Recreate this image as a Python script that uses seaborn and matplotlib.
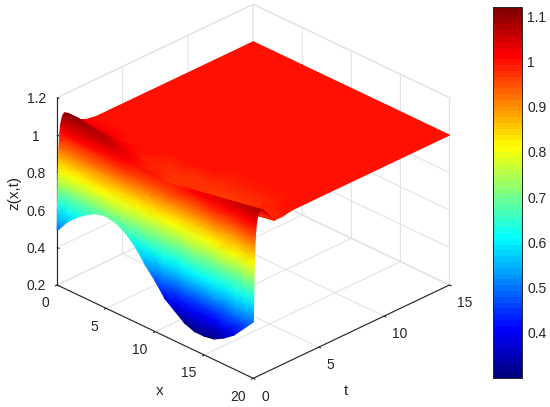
import numpy as np
import matplotlib
matplotlib.use('Agg')
import matplotlib.pyplot as plt
import seaborn as sns
from matplotlib.cm import ScalarMappable
from matplotlib.colors import ListedColormap, Normalize
from mpl_toolkits.mplot3d import proj3d

x_vals = list(range(21))
t_vals = [0, 0.01, 0.02, 0.03, 0.04, 0.05, 0.06, 0.075, 0.09, 0.11, 0.13, 0.16,
          0.2, 0.25, 0.33, 0.43, 0.55, 0.8, 1.2, 1.6, 2.2, 3, 4, 15]

# one row per t, one column per x
z_vals = [
    [.49, .56, .61, .65, .68, .69, .68, .65, .60, .53, .47, .40, .36, .32, .30, .30, .31, .34, .38, .44, .50],
    [.53, .60, .64, .68, .71, .72, .70, .68, .63, .56, .51, .44, .40, .37, .35, .35, .36, .39, .43, .48, .54],
    [.58, .64, .68, .71, .73, .74, .73, .70, .66, .60, .54, .48, .45, .42, .40, .40, .41, .44, .48, .53, .58],
    [.62, .67, .71, .74, .76, .77, .75, .73, .68, .63, .58, .52, .49, .47, .45, .45, .46, .49, .52, .57, .62],
    [.66, .71, .74, .77, .79, .79, .78, .75, .71, .66, .62, .57, .54, .51, .50, .50, .51, .54, .57, .62, .66],
    [.70, .75, .78, .80, .82, .82, .80, .78, .74, .70, .65, .61, .58, .56, .55, .56, .57, .59, .62, .66, .70],
    [.75, .79, .81, .83, .84, .84, .83, .80, .77, .73, .69, .65, .63, .61, .60, .61, .62, .64, .67, .70, .74],
    [.79, .82, .85, .86, .87, .87, .85, .83, .80, .76, .72, .69, .67, .66, .65, .66, .67, .69, .71, .75, .78],
    [.83, .86, .88, .89, .90, .89, .88, .85, .82, .79, .76, .73, .72, .71, .70, .71, .72, .74, .76, .79, .82],
    [.87, .90, .91, .92, .93, .92, .90, .88, .85, .83, .80, .77, .76, .75, .75, .76, .77, .79, .81, .84, .87],
    [.92, .94, .95, .95, .95, .94, .93, .90, .88, .86, .83, .81, .81, .80, .80, .81, .82, .84, .86, .88, .91],
    [.96, .98, .98, .98, .98, .97, .95, .93, .91, .89, .87, .85, .85, .85, .85, .86, .87, .89, .90, .93, .95],
    [1.00, 1.01, 1.01, 1.01, 1.01, .99, .97, .95, .94, .92, .91, .90, .90, .90, .90, .91, .92, .94, .95, .97, .99],
    [1.04, 1.05, 1.04, 1.04, 1.03, 1.01, 1.00, .97, .96, .95, .94, .93, .94, .94, .95, .96, .97, .98, 1.00, 1.01, 1.02],
    [1.07, 1.07, 1.07, 1.06, 1.05, 1.03, 1.01, .99, .98, .98, .96, .96, .97, .98, .98, 1.00, 1.00, 1.01, 1.03, 1.04, 1.05],
    [1.09, 1.09, 1.08, 1.07, 1.06, 1.04, 1.02, 1.00, .99, .99, .98, .98, .99, 1.00, 1.01, 1.02, 1.03, 1.04, 1.05, 1.06, 1.07],
    [1.10, 1.10, 1.09, 1.08, 1.07, 1.05, 1.03, 1.01, 1.00, 1.00, .99, .99, 1.00, 1.01, 1.02, 1.03, 1.04, 1.05, 1.06, 1.07, 1.08],
    [1.09, 1.09, 1.08, 1.07, 1.06, 1.04, 1.02, 1.00, .99, .99, .98, .98, .99, 1.00, 1.01, 1.02, 1.03, 1.04, 1.05, 1.06, 1.07],
    [1.06, 1.06, 1.05, 1.05, 1.04, 1.03, 1.01, 1.00, .99, .99, .98, .98, .98, .98, .99, .99, 1.00, 1.01, 1.02, 1.03, 1.03],
    [1.03, 1.03, 1.03, 1.02, 1.02, 1.01, 1.00, .99, .99, .98, .98, .97, .97, .97, .96, .96, .96, .97, .97, .98, .99],
    [1.01, 1.01, 1.01, 1.01, 1.00, 1.00, 1.00, 1.00, .99, .99, .99, .98, .98, .98, .98, .98, .98, .98, .99, .99, .99],
    [1.00, 1.00, 1.00, 1.00, 1.00, 1.00, 1.00, 1.00, 1.00, 1.00, 1.00, 1.00, 1.00, .99, .99, .99, .99, .99, .99, 1.00, 1.00],
    [1.00] * 21,
    [1.00] * 21,
]

x_ticks = [0, 5, 10, 15, 20]
t_ticks = [0, 5, 10, 15]
z_ticks = [0.2, 0.4, 0.6, 0.8, 1, 1.2]
z_ticklabels = ['0.2', '0.4', '0.6', '0.8', '1', '1.2']
cbar_ticks = [0.4, 0.5, 0.6, 0.7, 0.8, 0.9, 1, 1.1]
cbar_ticklabels = ['0.4', '0.5', '0.6', '0.7', '0.8', '0.9', '1', '1.1']
cmin, cmax = 0.298, 1.122

sns.set_theme(style='white')
plt.rcParams['font.family'] = ['Liberation Sans', 'DejaVu Sans']
plt.rcParams['font.size'] = 10

# same anchors as the matlab jet map, 64 steps
jet_pal = sns.blend_palette([(0, 0, .5), (0, 0, 1), (0, .5, 1), (0, 1, 1), (.5, 1, .5),
                             (1, 1, 0), (1, .5, 0), (1, 0, 0), (.5, 0, 0)], n_colors=64)
jet = ListedColormap(jet_pal)

X, T = np.meshgrid(x_vals, t_vals)
Z = np.array(z_vals)

fig = plt.figure(figsize=(5.5, 4.07), dpi=100)
ax = fig.add_axes([-54.8 / 550, -92.4 / 407, 600 / 550, 600 / 407], projection='3d')
ax.set_proj_type('ortho')
ax.view_init(elev=28.4, azim=-45)
ax.set_box_aspect((1, 1, 0.768), zoom=0.7223)

ax.set_xlim(0, 20, view_margin=0)
ax.set_ylim(0, 15, view_margin=0)
ax.set_zlim(0.2, 1.2, view_margin=0)
ax.set_xticks(x_ticks)
ax.set_yticks(t_ticks)
ax.set_zticks(z_ticks)
ax.set_zticklabels(z_ticklabels)

# z axis on the left corner, not the right one
ax.zaxis._axinfo['juggled'] = (1, 2, 0)

for axis in [ax.xaxis, ax.yaxis, ax.zaxis]:
    axis.set_pane_color((1, 1, 1, 1))
    axis.pane.set_edgecolor('#dcdcdc')
    axis.pane.set_linewidth(0.8)
    axis.line.set_color('#262626')
    axis.line.set_linewidth(0.8)
    axis._axinfo['grid']['color'] = '#e4e4e4'
    axis._axinfo['grid']['linewidth'] = 0.8
    axis._axinfo['tick']['inward_factor'] = 0.12
    axis._axinfo['tick']['outward_factor'] = 0.0
    axis._axinfo['tick']['linewidth'] = {True: 0.8, False: 0.8}
    axis._axinfo['tick']['color'] = '#262626'

ax.tick_params(axis='x', labelsize=10, labelcolor='#262626', pad=1)
ax.tick_params(axis='y', labelsize=10, labelcolor='#262626', pad=1)
ax.tick_params(axis='z', labelsize=10, labelcolor='#262626', pad=4)
plt.setp(ax.get_xticklabels(), ha='right')
plt.setp(ax.get_yticklabels(), ha='left')
plt.setp(ax.get_zticklabels(), va='center_baseline')

# axis titles sit where the original has them, mplot3d can only push them along the normal
fig.text(160 / 550, 1 - 391 / 407, 'x', fontsize=11, color='#262626', ha='center', va='center')
fig.text(346 / 550, 1 - 391 / 407, 't', fontsize=11, color='#262626', ha='center', va='center')
fig.text(14 / 550, 1 - 193 / 407, 'z(x,t)', fontsize=11, color='#262626', ha='center', va='center',
         rotation=90)

# plot_surface has no smooth shading, so project the grid with the axes' own matrix
# and draw it back to front (large t first) as a gouraud mesh
px, py, _ = proj3d.proj_transform(X.ravel(), T.ravel(), Z.ravel(), ax.get_proj())
px = np.reshape(px, Z.shape)[::-1]
py = np.reshape(py, Z.shape)[::-1]

overlay = fig.add_axes([0, 0, 1, 1])
overlay.axis('off')
overlay.patch.set_visible(False)
overlay.pcolormesh(px, py, Z[::-1], shading='gouraud', cmap=jet, vmin=cmin, vmax=cmax,
                   transform=ax.transData)
overlay.set_xlim(0, 1)
overlay.set_ylim(0, 1)

cax = fig.add_axes([492.5 / 550, 1 - 378 / 407, 29 / 550, 371 / 407])
cbar = fig.colorbar(ScalarMappable(norm=Normalize(cmin, cmax), cmap=jet), cax=cax)
cbar.set_ticks(cbar_ticks)
cbar.set_ticklabels(cbar_ticklabels)
cax.tick_params(direction='in', length=3, width=0.7, color='#262626', labelsize=10,
                labelcolor='#262626', pad=4)
cbar.outline.set_edgecolor('#262626')
cbar.outline.set_linewidth(0.7)

fig.savefig('out.png', dpi=100)
